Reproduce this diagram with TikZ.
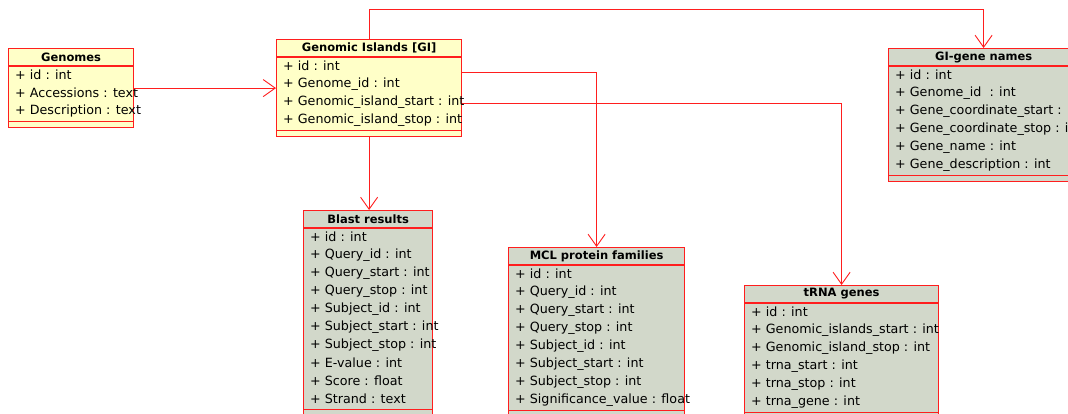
\documentclass[tikz,border=0pt]{standalone}
\usepackage{fontspec}
\setmainfont{DejaVu Sans}
\usetikzlibrary{arrows.meta, positioning, calc}
\definecolor{umlred}{RGB}{255,30,30}
\definecolor{umlyellow}{RGB}{255,255,200}
\definecolor{umlgrey}{RGB}{210,216,202}

\tikzset{
  box/.style={draw=umlred, line width=1.2pt, anchor=north west, inner sep=0pt},
  head/.style={inner sep=0pt, font=\bfseries\fontsize{11.5}{13}\selectfont},
  attr/.style={anchor=west, inner sep=0pt, font=\fontsize{12.7}{14}\selectfont},
  link/.style={draw=umlred, line width=0.9pt, -{Straight Barb[length=12pt, width=17pt]}},
}

% class box: name, x, y, width, number of rows, fill, title, rows
\newcommand{\umlclass}[8]{%
  \node[box, fill=#6, minimum width=#4pt, minimum height={(25+18*#5)*1pt}] (#1) at (#2,#3) {};
  \node[head] (#1-title) at ($(#1.north)+(0,9)$) {#7};
  \draw[umlred, line width=1.2pt] ($(#1.north west)+(0,18)$) -- ($(#1.north east)+(0,18)$);
  \draw[umlred, line width=1.2pt] ($(#1.south west)+(0,-7)$) -- ($(#1.south east)+(0,-7)$);
  \foreach \t [count=\i] in {#8}
    \node[attr] (#1-\i) at ($(#1.north west)+(7,9+18*\i)$) {\t};
}

\begin{document}
\begin{tikzpicture}[x=1pt, y=-1pt]
  \useasboundingbox (0,0) rectangle (1068,414);

  \umlclass{genomes}{8}{48}{125}{3}{umlyellow}{Genomes}
    {+ id : int, + Accessions : text, + Description : text}
  \umlclass{gi}{276}{39}{185}{4}{umlyellow}{Genomic Islands [GI]}
    {+ id : int, + Genome\_id : int, + Genomic\_island\_start : int, + Genomic\_island\_stop : int}
  \umlclass{gigene}{888}{48}{190}{6}{umlgrey}{GI-gene names}
    {+ id : int, + Genome\_id\ \ : int, + Gene\_coordinate\_start : int, + Gene\_coordinate\_stop : int,
     + Gene\_name : int, + Gene\_description : int}
  \umlclass{blast}{303}{210}{129}{10}{umlgrey}{Blast results}
    {+ id : int, + Query\_id : int, + Query\_start : int, + Query\_stop : int, + Subject\_id : int,
     + Subject\_start : int, + Subject\_stop : int, + E-value : int, + Score : float, + Strand : text}
  \umlclass{mcl}{508}{247}{176}{8}{umlgrey}{MCL protein families}
    {+ id : int, + Query\_id : int, + Query\_start : int, + Query\_stop : int, + Subject\_id : int,
     + Subject\_start : int, + Subject\_stop : int, + Significance\_value : float}
  \umlclass{trna}{744}{285}{194}{6}{umlgrey}{tRNA genes}
    {+ id : int, + Genomic\_islands\_start : int, + Genomic\_island\_stop : int, + trna\_start : int,
     + trna\_stop : int, + trna\_gene : int}

  % associations
  \draw[link] (genomes.east) -- (genomes.east -| gi.west);
  \draw[link] (gi.north) -- ++(0,-30) -| (gigene.north);
  \draw[link] (gi.south) -- (gi.south |- blast.north);
  \draw[link] ([yshift=15.5pt]gi.east) -| (mcl.north);
  \draw[link] ([yshift=-15.5pt]gi.east) -| (trna.north);
\end{tikzpicture}
\end{document}
